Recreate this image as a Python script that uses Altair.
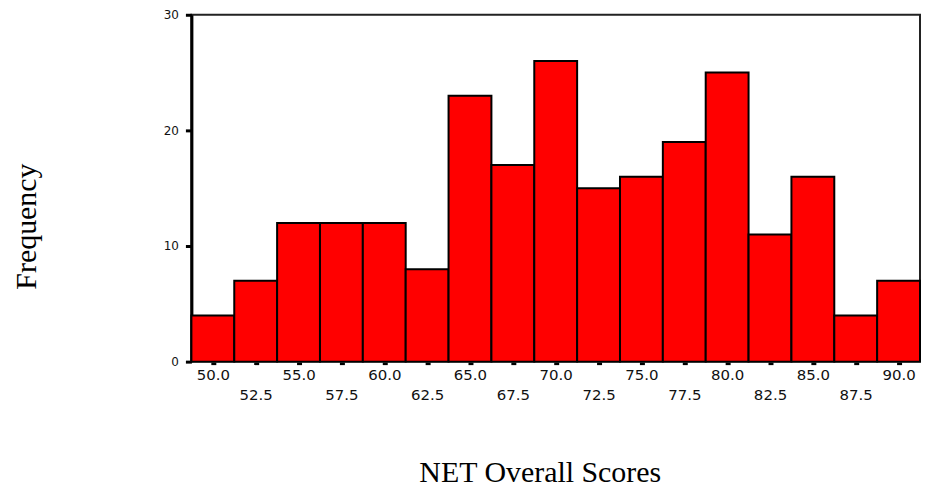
import altair as alt
import pandas as pd

# Histogram bin centres and frequencies
centers = [50.0, 52.5, 55.0, 57.5, 60.0, 62.5, 65.0, 67.5, 70.0,
           72.5, 75.0, 77.5, 80.0, 82.5, 85.0, 87.5, 90.0]
counts = [4, 7, 12, 12, 12, 8, 23, 17, 26, 15, 16, 19, 25, 11, 16, 4, 7]
bin_width = 2.5
y_ticks = [0, 10, 20, 30]

df = pd.DataFrame({
    "center": centers,
    "start": [c - bin_width / 2 for c in centers],
    "end": [c + bin_width / 2 for c in centers],
    "count": counts,
})

W, H = 731, 348

x_scale = alt.Scale(domain=[centers[0] - bin_width / 2, centers[-1] + bin_width / 2],
                    nice=False, zero=False)
y_scale = alt.Scale(domain=[0, 30], nice=False)

label_expr = ("(round((datum.value - 50) / 2.5) % 2 == 0) ? "
              "[format(datum.value, '.1f')] : ['', format(datum.value, '.1f')]")

chart = alt.Chart(df).mark_rect(
    color="#FF0000", stroke="#000000", strokeWidth=2, strokeOpacity=1
).encode(
    x=alt.X("start:Q", scale=x_scale,
            axis=alt.Axis(
                values=centers, labelExpr=label_expr, labelOverlap=False,
                labelFont="DejaVu Sans", labelFontSize=15, labelColor="#111",
                labelBaseline="top", labelLineHeight=20, labelPadding=3,
                labelBound=False, labelFlush=False,
                tickSize=3, tickWidth=5, tickColor="#000",
                domain=True, domainColor="#555", domainWidth=1,
                grid=False,
                title="NET Overall Scores", titleFont="Liberation Serif",
                titleFontSize=30, titleFontWeight="normal", titleColor="#000",
                titleX=349.5, titleY=120, titleBaseline="alphabetic",
                titleAlign="center")),
    x2="end:Q",
    y=alt.Y("count:Q", scale=y_scale,
            axis=alt.Axis(
                values=y_ticks, labelFont="DejaVu Sans", labelFontSize=12,
                labelColor="#111", labelPadding=7,
                tickSize=6, tickWidth=3, tickColor="#000",
                domain=True, domainColor="#000", domainWidth=3,
                grid=False,
                title="Frequency", titleFont="Liberation Serif",
                titleFontSize=30, titleFontWeight="normal", titleColor="#000",
                titleAngle=270, titleX=-156, titleY=212,
                titleBaseline="alphabetic", titleAlign="center")),
    y2=alt.datum(0),
).properties(
    width=W, height=H,
    autosize=alt.AutoSizeParams(type="none"),
    padding={"left": 184, "top": 6, "right": 2, "bottom": 126},
    background="white",
).configure_view(
    stroke="#222", strokeWidth=2
)

chart.save("out.html", embed_options={"renderer": "svg", "actions": False})
